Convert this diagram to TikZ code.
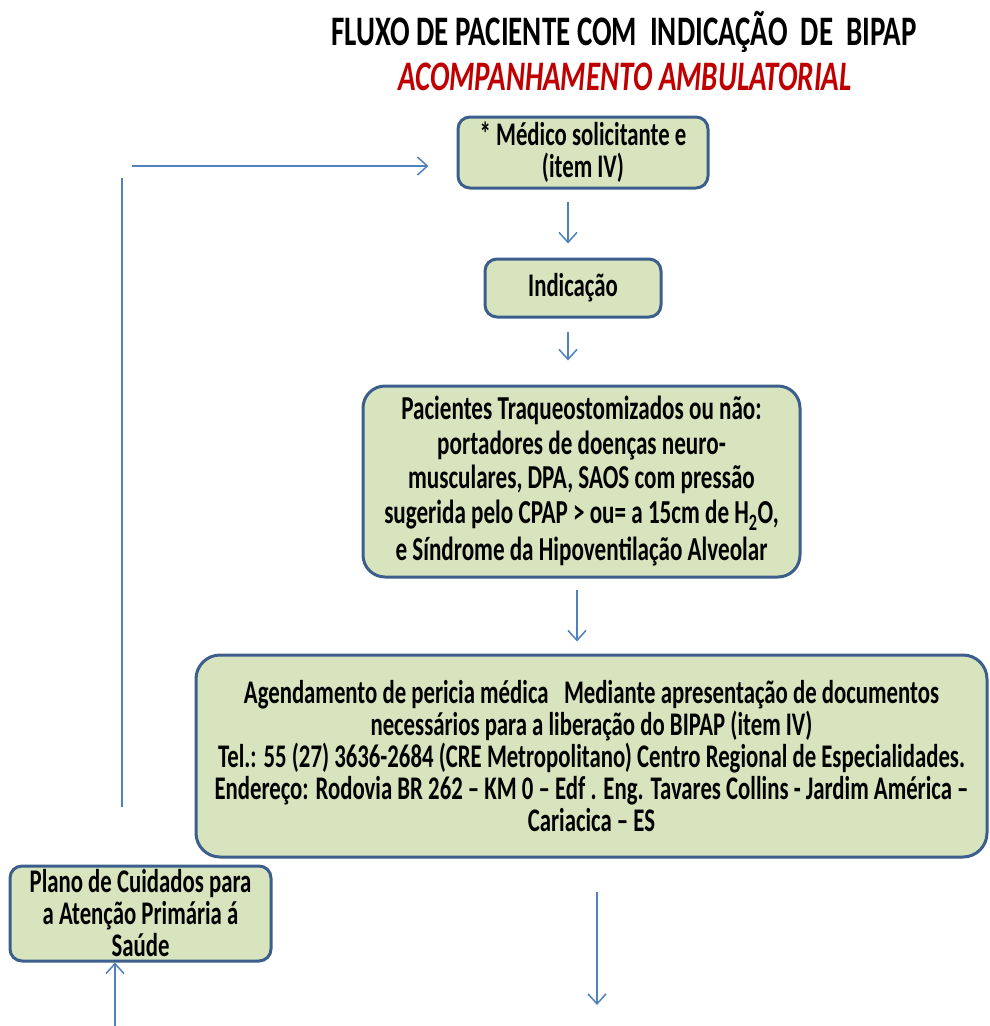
\documentclass[tikz,border=0pt]{standalone}
\usepackage{fontspec}
\setmainfont{Carlito}[FakeStretch=0.69]
\usepackage{tikz}
\usetikzlibrary{positioning,arrows.meta}
\definecolor{boxfill}{HTML}{D7E4BD}
\definecolor{boxline}{HTML}{3B5E8C}
\definecolor{flowblue}{HTML}{4F81BD}
\definecolor{titlered}{HTML}{C00000}

\begin{document}
\begin{tikzpicture}[x=1pt,y=-1pt]
\tikzstyle{every node}+=[font=\bfseries\fontsize{33}{32}\selectfont]
\tikzstyle{stage}=[draw=boxline, fill=boxfill, line width=3pt, rounded corners=12pt, align=center, inner sep=0pt]
\tikzstyle{flow}=[flowblue, line width=1.5pt, -{Straight Barb[length=10pt,width=18pt]}]
\tikzstyle{flowline}=[flowblue, line width=1.5pt]
\useasboundingbox (0,0) rectangle (989,1026);

% titulo
\node[font=\bfseries\fontsize{42}{44}\selectfont] (tit) at (624,32) {FLUXO DE PACIENTE COM \ INDICAÇÃO \ DE \ BIPAP};
\node[titlered, font=\bfseries\itshape\fontsize{42}{44}\selectfont] (sub) at (625,77) {ACOMPANHAMENTO AMBULATORIAL};

% caixas
\node[stage, minimum width=250pt, minimum height=71pt] (medico) at (583,152.5) {* Médico solicitante e\\(item IV)};
\node[stage, minimum width=176pt, minimum height=58pt] (indic) at (573,288) {Indicação};
\node[stage, minimum width=437pt, minimum height=191pt, rounded corners=22pt,
  font=\bfseries\fontsize{33.5}{34.5}\selectfont] (pac) at (581.5,481.5)
  {Pacientes Traqueostomizados ou não:\\portadores de doenças neuro-\\musculares, DPA, SAOS com pressão\\sugerida pelo CPAP > ou= a 15cm de H\textsubscript{2}O,\\[3pt]e Síndrome da Hipoventilação Alveolar};
\node[stage, minimum width=791pt, minimum height=202pt, rounded corners=24pt] (agend) at (591.5,756)
  {Agendamento de pericia médica \ \ Mediante apresentação de documentos\\necessários para a liberação do BIPAP (item IV)\\Tel.: 55 (27) 3636-2684 (CRE Metropolitano) Centro Regional de Especialidades.\\Endereço: Rodovia BR 262 -- KM 0 -- Edf . Eng. Tavares Collins - Jardim América --\\Cariacica -- ES};
\node[stage, minimum width=261pt, minimum height=95pt] (plano) at (140.5,913.5)
  {Plano de Cuidados para\\a Atenção Primária á\\Saúde};

% eixos das setas
\coordinate (ax1) at (568,0);
\coordinate (ax2) at (577,0);
\coordinate (ax3) at (597,0);
\coordinate (fim) at (597,1005);
\coordinate (ret1) at (122,807);
\coordinate (ret2) at (122,178);
\coordinate (ret3) at (132,166);
\coordinate (base) at (115,1026);

\draw[flow, shorten <=12pt, shorten >=14pt] (medico.south -| ax1) -- (indic.north -| ax1);
\draw[flow, shorten <=13pt, shorten >=24pt] (indic.south -| ax1) -- (pac.north -| ax1);
\draw[flow, shorten <=11pt, shorten >=12pt] (pac.south -| ax2) -- (agend.north -| ax2);
\draw[flow, shorten <=33pt] (agend.south -| ax3) -- (fim);
\draw[flowline] (ret1) -- (ret2);
\draw[flow, shorten >=28pt] (ret3) -- (ret3 -| medico.west);
\draw[flow] (base) -- (base |- plano.south);
\end{tikzpicture}
\end{document}
